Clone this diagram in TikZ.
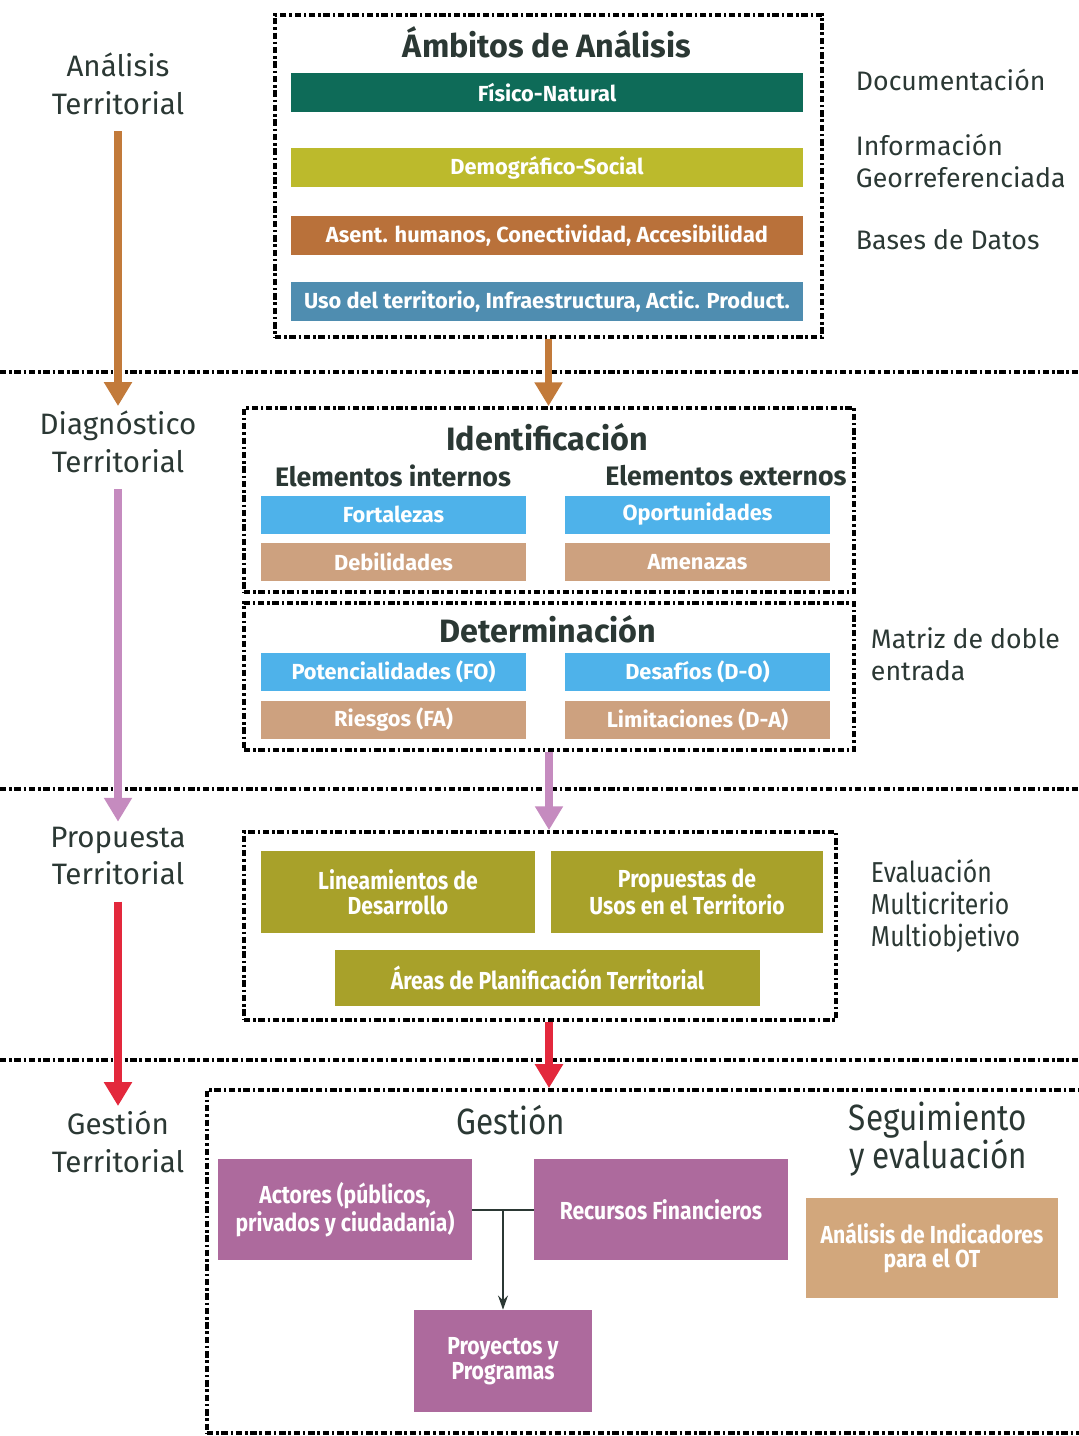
\documentclass[tikz,border=0pt]{standalone}
\usepackage{fontspec}
\setmainfont{Fira Sans}
\newfontfamily\condfont[FakeStretch=0.86]{Fira Sans}
\usepackage{xcolor}
\usetikzlibrary{arrows.meta,positioning}

\definecolor{ink}{HTML}{2B3834}
\definecolor{teal}{HTML}{0E6B58}
\definecolor{oliveyel}{HTML}{BCBA2C}
\definecolor{rust}{HTML}{B9713A}
\definecolor{steel}{HTML}{4F8DB0}
\definecolor{sky}{HTML}{4EB2EA}
\definecolor{tan}{HTML}{CDA17F}
\definecolor{olivedk}{HTML}{A8A12A}
\definecolor{mauve}{HTML}{AD6A9D}
\definecolor{tanlt}{HTML}{D2A77C}
\definecolor{arrorange}{HTML}{C27A3A}
\definecolor{arrpink}{HTML}{C58BBF}
\definecolor{arrred}{HTML}{E3283C}

\begin{document}
\begin{tikzpicture}[x=0.025cm, y=-0.025cm,
    sep/.style={line width=2.6pt, dash pattern=on 4.5pt off 2pt on 1.8pt off 2pt},
    frame/.style={draw, rectangle, sep, inner sep=0pt},
    bar/.style={rectangle, inner sep=0pt, text=white, align=center,
      font=\fontsize{15.5}{18}\selectfont\bfseries},
    cbar/.style={bar, font=\condfont\fontsize{17.5}{17.5}\selectfont\bfseries},
    lab/.style={text=ink, align=center, font=\fontsize{21}{27}\selectfont},
    side/.style={text=ink, align=left, anchor=west, font=\fontsize{19}{23}\selectfont},
    ttl/.style={text=ink, font=\fontsize{23}{26}\selectfont\bfseries},
    sub/.style={text=ink, font=\fontsize{19}{22}\selectfont\bfseries},
    flow/.style={line width=5pt, shorten <=8pt, -{Triangle[width=19pt,length=17pt]}}]
  \useasboundingbox (0,0) rectangle (1079,1436);

  % separadores
  \draw[sep] (0,372) -- (1079,372);
  \draw[sep] (0,789) -- (1079,789);
  \draw[sep] (0,1060) -- (1079,1060);

  % etapas
  \node (analisis) [lab] at (118,84) {Análisis\\Territorial};
  \node (diagnos) [lab] at (118,442) {Diagnóstico\\Territorial};
  \node (propT) [lab] at (118,856) {Propuesta\\Territorial};
  \node (gestT) [lab] at (118,1142) {Gestión\\Territorial};

  % ambitos de analisis
  \node (ambitos) [frame, minimum width=13.675cm, minimum height=8.05cm] at (548.5,176) {};
  \node (ambT) [ttl] at (547,42) {Ámbitos de Análisis};
  \node (fisico) [bar, fill=teal, minimum width=12.8cm, minimum height=0.975cm] at (547,92.5) {Físico-Natural};
  \node (demog) [bar, fill=oliveyel, minimum width=12.8cm, minimum height=0.975cm] at (547,167.5) {Demográfico-Social};
  \node (asent) [bar, fill=rust, minimum width=12.8cm, minimum height=0.975cm] at (547,235.5) {Asent. humanos, Conectividad, Accesibilidad};
  \node (uso) [bar, fill=steel, minimum width=12.8cm, minimum height=0.975cm] at (547,301.5) {Uso del territorio, Infraestructura, Actic. Product.};
  \node (docu) [side] at (851,80) {Documentación};
  \node (infoG) [side] at (851,161) {Información\\Georreferenciada};
  \node (bases) [side] at (851,240) {Bases de Datos};

  % identificacion
  \node (ident) [frame, minimum width=15.25cm, minimum height=4.6cm] at (549,500) {};
  \node (identT) [ttl] at (547,437) {Identificación};
  \node (intern) [sub] at (393,476) {Elementos internos};
  \node (extern) [sub] at (726,476) {Elementos externos};
  \node (fort) [bar, fill=sky, minimum width=6.625cm, minimum height=0.95cm] at (393.5,514.5) {Fortalezas};
  \node (oport) [bar, fill=sky, minimum width=6.625cm, minimum height=0.95cm] at (697.5,514.5) {Oportunidades};
  \node (debil) [bar, fill=tan, minimum width=6.625cm, minimum height=0.95cm] at (393.5,562) {Debilidades};
  \node (amen) [bar, fill=tan, minimum width=6.625cm, minimum height=0.95cm] at (697.5,562) {Amenazas};

  % determinacion
  \node (determ) [frame, minimum width=15.25cm, minimum height=3.675cm] at (549,676.5) {};
  \node (determT) [ttl] at (548,629) {Determinación};
  \node (poten) [bar, fill=sky, minimum width=6.625cm, minimum height=0.95cm] at (393.5,672) {Potencialidades (FO)};
  \node (desaf) [bar, fill=sky, minimum width=6.625cm, minimum height=0.95cm] at (697.5,672) {Desafíos (D-O)};
  \node (riesg) [bar, fill=tan, minimum width=6.625cm, minimum height=0.95cm] at (393.5,720) {Riesgos (FA)};
  \node (limit) [bar, fill=tan, minimum width=6.625cm, minimum height=0.95cm] at (697.5,720) {Limitaciones (D-A)};
  \node (matriz) [side] at (866,654) {Matriz de doble\\entrada};

  % propuesta
  \node (propu) [frame, minimum width=14.8cm, minimum height=4.7cm] at (540,926) {};
  \node (linea) [cbar, fill=olivedk, minimum width=6.85cm, minimum height=2.05cm] at (398,892) {Lineamientos de\\Desarrollo};
  \node (usos) [cbar, fill=olivedk, minimum width=6.8cm, minimum height=2.05cm] at (687,892) {Propuestas de\\Usos en el Territorio};
  \node (areas) [cbar, fill=olivedk, minimum width=10.625cm, minimum height=1.4cm] at (547.5,978) {Áreas de Planificación Territorial};
  \node (evalu) [side, font=\condfont\fontsize{20.5}{23}\selectfont] at (866,906) {Evaluación\\Multicriterio\\Multiobjetivo};

  % gestion
  \node (gestion) [frame, minimum width=21.95cm, minimum height=8.575cm] at (646,1261.5) {};
  \node (gestT2) [lab, font=\condfont\fontsize{26}{27}\selectfont] at (511,1120) {Gestión};
  \node (segui) [lab, font=\condfont\fontsize{26}{27}\selectfont] at (938,1139) {Seguimiento\\y evaluación};
  \node (actor) [cbar, fill=mauve, minimum width=6.35cm, minimum height=2.525cm] at (345,1209.5) {Actores (públicos,\\privados y ciudadanía)};
  \node (recur) [cbar, fill=mauve, minimum width=6.35cm, minimum height=2.525cm] at (661,1209.5) {Recursos Financieros};
  \node (proy) [cbar, fill=mauve, minimum width=4.45cm, minimum height=2.55cm] at (503,1361) {Proyectos y\\Programas};
  \node (indic) [cbar, fill=tanlt, minimum width=6.3cm, minimum height=2.5cm] at (932,1248) {Análisis de Indicadores\\para el OT};
  \coordinate (junta) at (503,1209.5);

  \draw[line width=1.4pt, ink] (actor.east) -- (recur.west);
  \draw[line width=1.4pt, ink, -{Stealth[length=10pt,width=7pt]}] (junta) -- (proy.north);

  % flechas
  \draw[flow, arrorange] (analisis.south) -- (diagnos.north);
  \draw[flow, arrpink] (diagnos.south) -- (propT.north);
  \draw[flow, arrred] (propT.south) -- (gestT.north);
  \draw[flow, arrorange, shorten <=0pt] (ambitos.south) -- (ambitos.south |- ident.north);
  \draw[flow, arrpink, shorten <=0pt] (determ.south) -- (determ.south |- propu.north);
  \draw[flow, arrred, shorten <=0pt] (propu.south -| determ.south) -- (determ.south |- gestion.north);
\end{tikzpicture}
\end{document}
